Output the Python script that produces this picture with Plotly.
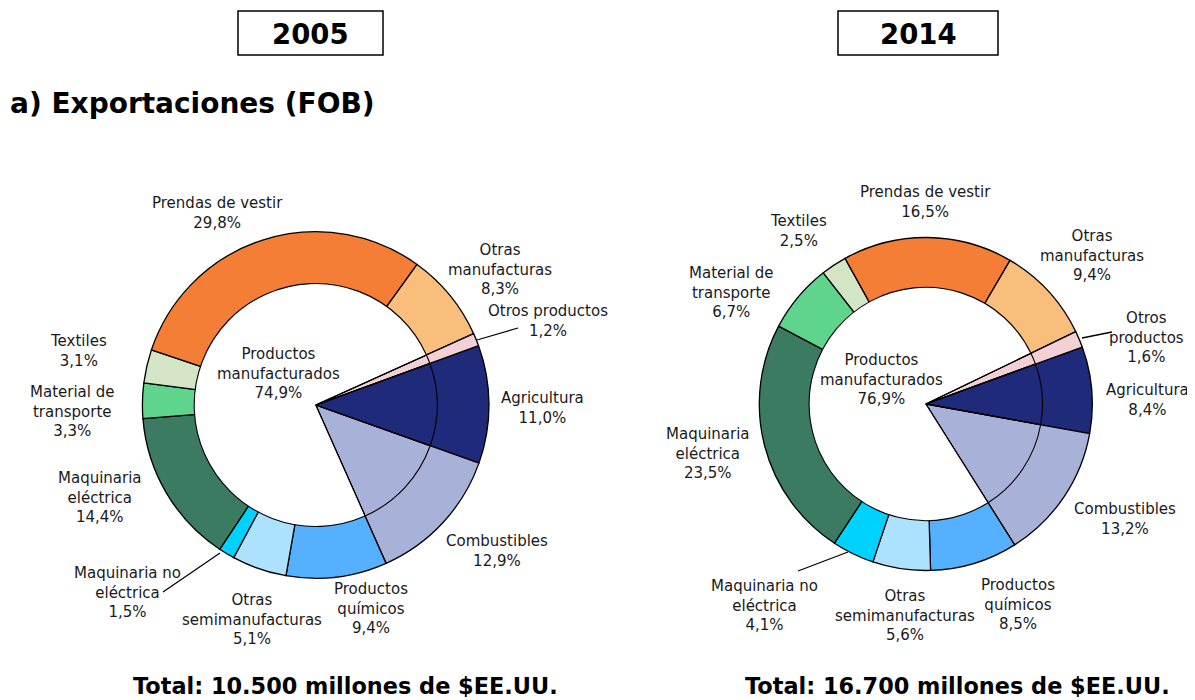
import plotly.graph_objects as go

# ---------------- data ----------------
categories = ["Agricultura", "Combustibles", "Productos químicos", "Otras semimanufacturas",
              "Maquinaria no eléctrica", "Maquinaria eléctrica", "Material de transporte",
              "Textiles", "Prendas de vestir", "Otras manufacturas", "Otros productos"]
is_manufactured = [False, False, True, True, True, True, True, True, True, True, False]
share_2005 = [11.0, 12.9, 9.4, 5.1, 1.5, 14.4, 3.3, 3.1, 29.8, 8.3, 1.2]
share_2014 = [8.4, 13.2, 8.5, 5.6, 4.1, 23.5, 6.7, 2.5, 16.5, 9.4, 1.6]
manuf_label_2005 = 74.9
manuf_label_2014 = 76.9
total_2005 = 10500
total_2014 = 16700
years = ["2005", "2014"]

# display names (line breaks) per year
names_2005 = ["Agricultura", "Combustibles", "Productos<br>químicos", "Otras<br>semimanufacturas",
              "Maquinaria no<br>eléctrica", "Maquinaria<br>eléctrica", "Material de<br>transporte",
              "Textiles", "Prendas de vestir", "Otras<br>manufacturas", "Otros productos"]
names_2014 = ["Agricultura", "Combustibles", "Productos<br>químicos", "Otras<br>semimanufacturas",
              "Maquinaria no<br>eléctrica", "Maquinaria<br>eléctrica", "Material de<br>transporte",
              "Textiles", "Prendas de vestir", "Otras<br>manufacturas", "Otros<br>productos"]

colors = ["#1F2A7B", "#A8B2D8", "#55B1FD", "#ACE2FD", "#00D2FF", "#3A7B62",
          "#5ED48C", "#D3E5C5", "#F57E37", "#F9BE7C", "#F2D0D5"]

# ---------------- layout helpers ----------------
OFF = 8                      # page body margin in the browser
W, H = 1195 - OFF, 700 - OFF
FONT = "DejaVu Sans, Verdana, sans-serif"
LABEL_SIZE = 15


def px(x):
    return (x - OFF) / W


def py(y):
    return 1 - (y - OFF) / H


def dom(cx, cy, r):
    return dict(x=[px(cx - r), px(cx + r)], y=[py(cy + r), py(cy - r)])


def fmt(v):
    return f"{v:.1f}".replace(".", ",") + "%"


def fmt_total(v):
    return f"{v:,}".replace(",", ".")


fig = go.Figure()

charts = [
    dict(shares=share_2005, names=names_2005, manuf=manuf_label_2005, total=total_2005,
         cx=315.7, cy=405.0, r=173.3, ri=121.5,
         pos=[(542, 408), (497, 551), (371, 608), (252, 619), (127, 592), (100, 497),
              (72, 411), (78, 351), (217, 213), (500, 269), (548, 321)],
         center=(278, 373), total_pos=(345, 686),
         leaders=[(477, 340, 518, 328), (163, 592, 220, 553)],
         box=(238, 11, 383, 55)),
    dict(shares=share_2014, names=names_2014, manuf=manuf_label_2014, total=total_2014,
         cx=925.8, cy=404.0, r=166.5, ri=116.7,
         pos=[(1147, 400), (1125, 519), (1018, 604), (905, 615), (764, 605), (708, 453),
              (731, 292), (798, 231), (925, 202), (1092, 256), (1146, 337)],
         center=(881, 379), total_pos=(957, 686),
         leaders=[(1082, 338, 1112, 332), (798, 571, 848, 552)],
         box=(838, 11, 998, 55)),
]

annotations = []
shapes = []

for yr, c in zip(years, charts):
    # outer full pie with all categories
    fig.add_trace(go.Pie(
        labels=categories, values=c["shares"], sort=False, direction="clockwise",
        rotation=70, marker=dict(colors=colors, line=dict(color="black", width=1.3)),
        textinfo="none", hoverinfo="label+percent", showlegend=False,
        domain=dom(c["cx"], c["cy"], c["r"]),
    ))
    # inner pie: manufactured products merged into one white slice
    manuf_total = sum(v for v, m in zip(c["shares"], is_manufactured) if m)
    inner_labels = [categories[0], categories[1], "Productos manufacturados", categories[10]]
    inner_values = [c["shares"][0], c["shares"][1], manuf_total, c["shares"][10]]
    inner_colors = ["rgba(0,0,0,0)", "rgba(0,0,0,0)", "white", "rgba(0,0,0,0)"]
    fig.add_trace(go.Pie(
        labels=inner_labels, values=inner_values, sort=False, direction="clockwise",
        rotation=70, marker=dict(colors=inner_colors, line=dict(color="black", width=1.1)),
        textinfo="none", hoverinfo="skip", showlegend=False,
        domain=dom(c["cx"], c["cy"], c["ri"]),
    ))

    for name, v, (x, y) in zip(c["names"], c["shares"], c["pos"]):
        annotations.append(dict(
            x=px(x), y=py(y), xref="paper", yref="paper", showarrow=False,
            text=f"{name}<br>{fmt(v)}", xanchor="center", yanchor="middle",
            font=dict(family=FONT, size=LABEL_SIZE, color="#1a1a1a"), align="center"))
    annotations.append(dict(
        x=px(c["center"][0]), y=py(c["center"][1]), xref="paper", yref="paper",
        showarrow=False, text=f"Productos<br>manufacturados<br>{fmt(c['manuf'])}",
        xanchor="center", yanchor="middle",
        font=dict(family=FONT, size=LABEL_SIZE, color="#1a1a1a"), align="center"))
    annotations.append(dict(
        x=px(c["total_pos"][0]), y=py(c["total_pos"][1]), xref="paper", yref="paper",
        showarrow=False, text=f"<b>Total: {fmt_total(c['total'])} millones de $EE.UU.</b>",
        xanchor="center", yanchor="middle",
        font=dict(family=FONT, size=22.4, color="black")))
    bx0, by0, bx1, by1 = c["box"]
    shapes.append(dict(type="rect", xref="paper", yref="paper",
                       x0=px(bx0), x1=px(bx1), y0=py(by1), y1=py(by0),
                       line=dict(color="black", width=1.5), fillcolor="white", layer="below"))
    annotations.append(dict(
        x=px((bx0 + bx1) / 2), y=py((by0 + by1) / 2 + 1), xref="paper", yref="paper",
        showarrow=False, text=f"<b>{yr}</b>", xanchor="center", yanchor="middle",
        font=dict(family=FONT, size=27.5, color="black")))
    for (x0, y0, x1, y1) in c["leaders"]:
        shapes.append(dict(type="line", xref="paper", yref="paper",
                           x0=px(x0), y0=py(y0), x1=px(x1), y1=py(y1),
                           line=dict(color="black", width=1.3)))

annotations.append(dict(
    x=px(8), y=py(104), xref="paper", yref="paper", showarrow=False,
    text="<b>a) Exportaciones (FOB)</b>", xanchor="left", yanchor="middle",
    font=dict(family=FONT, size=28, color="black")))

fig.update_layout(
    width=W, height=H, margin=dict(l=0, r=0, t=0, b=0),
    paper_bgcolor="white", plot_bgcolor="white",
    annotations=annotations, shapes=shapes,
)

fig.write_html("out.html")
